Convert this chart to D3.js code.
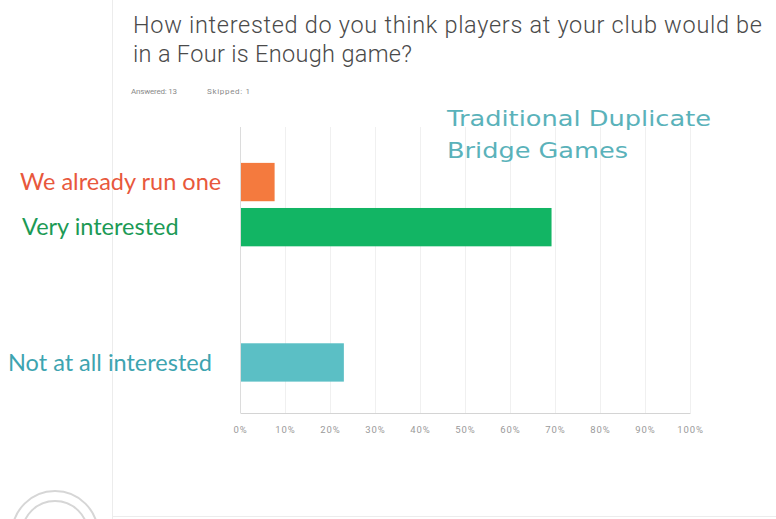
<!DOCTYPE html>
<html>
<head>
<meta charset="utf-8">
<script src="https://cdn.jsdelivr.net/npm/d3@7"></script>
<style>
  html, body { margin: 0; padding: 0; background: #fff; }
  svg { display: block; }
</style>
</head>
<body>
<svg id="chart" width="776" height="519"></svg>
<script>
// ---- data ----
const categories = ["We already run one", "Very interested", "Somewhat interested", "Not so interested", "Not at all interested"];
const values = [7.69, 69.23, 0, 0, 23.08];           // percent of 13 respondents
const shownLabels = ["We already run one", "Very interested", "", "", "Not at all interested"];
const tickValues = [0, 10, 20, 30, 40, 50, 60, 70, 80, 90, 100];
const tickLabels = ["0%", "10%", "20%", "30%", "40%", "50%", "60%", "70%", "80%", "90%", "100%"];
const titleLines = ["How interested do you think players at your club would be", "in a Four is Enough game?"];
const answeredText = "Answered: 13";
const skippedText = "Skipped: 1";
const annotationLines = ["Traditional Duplicate", "Bridge Games"];

// ---- style ----
const barColors = ["#f47a3e", "#12b564", "#5bbfc5", "#5bbfc5", "#5bbfc5"];
const labelColors = ["#e8583c", "#1c9a55", "#3da4b0", "#3da4b0", "#3da4b0"];
const labelX = [20, 22, 8, 8, 8];
const titleWidths = [629, 279];
const annotationWidths = [264, 181];

const svg = d3.select("#chart");

// card edges
svg.append("line").attr("x1", 112.5).attr("x2", 112.5).attr("y1", 0).attr("y2", 519)
  .attr("stroke", "#ececec").attr("stroke-width", 1);
svg.append("line").attr("x1", 112).attr("x2", 776).attr("y1", 516.5).attr("y2", 516.5)
  .attr("stroke", "#ececec").attr("stroke-width", 1);

// logo arcs bottom-left
[43, 33].forEach(r => {
  svg.append("circle").attr("cx", 55).attr("cy", 534).attr("r", r)
    .attr("fill", "none").attr("stroke", "#d6d6d6").attr("stroke-width", 2);
});

// title
svg.append("g").selectAll("text").data(titleLines).join("text")
  .attr("x", 133).attr("y", (d, i) => 33 + i * 29)
  .attr("font-family", "Roboto, 'Open Sans', sans-serif")
  .attr("font-size", 23.5).attr("font-weight", 300)
  .attr("textLength", (d, i) => titleWidths[i]).attr("lengthAdjust", "spacing")
  .attr("fill", "#4a4a4a").text(d => d);

svg.append("text").attr("x", 131).attr("y", 94)
  .attr("font-family", "Roboto, sans-serif").attr("font-size", 8)
  .attr("textLength", 46).attr("lengthAdjust", "spacing")
  .attr("fill", "#8a8a8a").text(answeredText);
svg.append("text").attr("x", 207).attr("y", 94)
  .attr("font-family", "Roboto, sans-serif").attr("font-size", 8)
  .attr("textLength", 43).attr("lengthAdjust", "spacing")
  .attr("fill", "#8a8a8a").text(skippedText);

// scales
const x = d3.scaleLinear().domain([0, 100]).range([240, 690]);
const y = d3.scaleBand().domain(categories).range([159.5, 385]).paddingInner(0.15).paddingOuter(0.075);
const plotTop = 127, plotBottom = 413;

// gridlines
svg.append("g").selectAll("line").data(tickValues).join("line")
  .attr("x1", d => x(d) + 0.5).attr("x2", d => x(d) + 0.5)
  .attr("y1", plotTop).attr("y2", plotBottom)
  .attr("stroke", d => d === 0 ? "#dcdcdc" : "#f0f0f0").attr("stroke-width", 1);

// x axis
const xAxis = d3.axisBottom(x).tickValues(tickValues)
  .tickFormat((d, i) => tickLabels[i]).tickSize(0).tickPadding(13);
const axG = svg.append("g").attr("transform", `translate(0,${plotBottom})`).call(xAxis);
axG.select(".domain").attr("stroke", "#d4d4d4");
axG.selectAll("text").attr("font-family", "Roboto, sans-serif").attr("font-size", 9.5)
  .attr("letter-spacing", 0.9).attr("fill", "#9a9a9a");

// bars
svg.append("g").selectAll("rect").data(categories).join("rect")
  .attr("x", x(0) + 1)
  .attr("y", d => y(d))
  .attr("width", (d, i) => Math.max(0, x(values[i]) - x(0) - 1))
  .attr("height", y.bandwidth())
  .attr("fill", (d, i) => barColors[i]);

// category labels
svg.append("g").selectAll("text").data(categories).join("text")
  .attr("x", (d, i) => labelX[i])
  .attr("y", d => y(d) + y.bandwidth() / 2)
  .attr("dy", "0.35em")
  .attr("font-family", "Lato, 'Open Sans', sans-serif")
  .attr("font-size", 23.5)
  .attr("fill", (d, i) => labelColors[i])
  .text((d, i) => shownLabels[i]);

// annotation
svg.append("g").selectAll("text").data(annotationLines).join("text")
  .attr("x", 447).attr("y", (d, i) => 126 + i * 32)
  .attr("font-family", "'DejaVu Sans', 'Open Sans', sans-serif")
  .attr("font-size", 22)
  .attr("textLength", (d, i) => annotationWidths[i]).attr("lengthAdjust", "spacingAndGlyphs")
  .attr("fill", "#5ab2ba").text(d => d);
</script>
</body>
</html>
